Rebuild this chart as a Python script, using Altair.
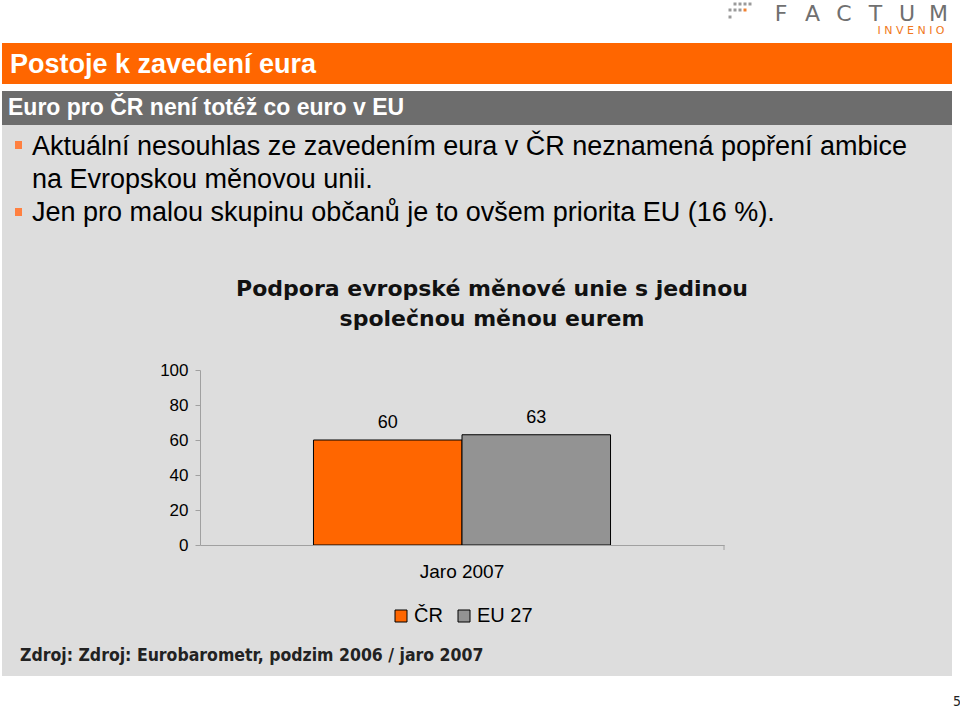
import altair as alt
import pandas as pd

# ---- data ----
series = ["ČR", "EU 27"]
period = ["Jaro 2007", "Jaro 2007"]
values = [60, 63]
colors = ["#FF6600", "#939393"]
y_ticks = [0, 20, 40, 60, 80, 100]

slide_title = "Postoje k zavedení eura"
slide_subtitle = "Euro pro ČR není totéž co euro v EU"
bullet_lines = [
    "Aktuální nesouhlas ze zavedením eura v ČR neznamená popření ambice",
    "na Evropskou měnovou unii.",
    "Jen pro malou skupinu občanů je to ovšem priorita EU (16 %).",
]
chart_title = ["Podpora evropské měnové unie s jedinou", "společnou měnou eurem"]
source_text = "Zdroj: Zdroj: Eurobarometr, podzim 2006 / jaro 2007"
page_no = "5"
logo_word = "FACTUM"
logo_sub = "I N V E N I O"

df = pd.DataFrame({"series": series, "period": period, "value": values})

# plot area origin is at page pixel (OX, OY)
OX, OY = 200, 370
W, H = 524, 175
FONT = "Liberation Sans"
NARROW = "DejaVu Sans Condensed, Liberation Sans"

dummy = alt.Data(values=[{}])


def rect(x1, y1, x2, y2, color):
    return alt.Chart(dummy).mark_rect(color=color).encode(
        x=alt.value(x1 - OX), x2=alt.value(x2 - OX),
        y=alt.value(y1 - OY), y2=alt.value(y2 - OY),
    )


def text(t, x, y, size, color="#000000", weight="normal", align="left", font=FONT):
    return alt.Chart(dummy).mark_text(
        text=t, fontSize=size, color=color, fontWeight=weight, align=align,
        baseline="middle", font=font,
    ).encode(x=alt.value(x - OX), y=alt.value(y - OY))


layers = []
# background panels
layers.append(rect(2, 125, 952, 676, "#DDDDDD"))
layers.append(rect(2, 43, 952, 84, "#FF6600"))
layers.append(rect(2, 91, 952, 125, "#6D6D6D"))
layers.append(text(slide_title, 10, 65, 27, "#FFFFFF", "bold"))
layers.append(text(slide_subtitle, 8, 108, 23, "#FFFFFF", "bold"))

# bullets
layers.append(rect(15, 141, 22, 149, "#FF8040"))
layers.append(rect(15, 208, 22, 216, "#FF8040"))
layers.append(text(bullet_lines[0], 32, 147, 27))
layers.append(text(bullet_lines[1], 32, 180, 27))
layers.append(text(bullet_lines[2], 32, 213, 27))

# chart title
layers.append(text(chart_title[0], 492, 289, 22, "#111111", "bold", "center", "DejaVu Sans"))
layers.append(text(chart_title[1], 492, 319, 22, "#111111", "bold", "center", "DejaVu Sans"))

# source and page number
layers.append(text(source_text, 20, 656, 17.5, "#222222", "bold", font=NARROW))
layers.append(text(page_no, 953, 702, 14, "#222222", font=NARROW))

# logo
for i, ch in enumerate(logo_word):
    layers.append(text(ch, 781 + i * 31.5, 13.5, 22, "#707070", align="center", font="DejaVu Sans"))
layers.append(text(logo_sub, 911, 30.5, 11, "#F07820", align="center", font="DejaVu Sans"))
for (sx, sy, c) in [(735, 4, "#9A9A9A"), (740, 4, "#9A9A9A"), (745, 4, "#9A9A9A"), (750, 4, "#9A9A9A"),
                    (730, 10, "#9A9A9A"), (735, 10, "#9A9A9A"), (740, 10, "#9A9A9A"), (745, 10, "#F08030"),
                    (730, 17, "#9A9A9A")]:
    layers.append(rect(sx - 1.5, sy - 1.5, sx + 1.5, sy + 1.5, c))

# x-axis end tick
layers.append(alt.Chart(dummy).mark_rule(color="#A0A0A0").encode(
    x=alt.value(W), y=alt.value(H), y2=alt.value(H + 5)))

x_axis = alt.Axis(labelFontSize=19, labelFont=FONT, labelColor="#000000", labelAngle=0,
                  ticks=False, labelPadding=17, domainColor="#A0A0A0", zindex=1)
y_axis = alt.Axis(values=y_ticks, grid=False, labelFontSize=17, labelFont=FONT,
                  labelColor="#000000", tickColor="#A0A0A0", tickSize=5,
                  labelOverlap=False, labelBound=False,
                  domainColor="#A0A0A0", labelPadding=7, zindex=1)
x_enc = alt.X("period:N", title=None, scale=alt.Scale(paddingOuter=0.382, paddingInner=0), axis=x_axis)
xo_enc = alt.XOffset("series:N", sort=series, scale=alt.Scale(paddingInner=0, paddingOuter=0))
y_enc = alt.Y("value:Q", title=None, scale=alt.Scale(domain=[0, 100]), axis=y_axis)

# bars
base = alt.Chart(df)
bars = base.mark_bar(stroke="#000000", strokeWidth=1).encode(
    x=x_enc, xOffset=xo_enc, y=y_enc,
    color=alt.Color("series:N", sort=series, scale=alt.Scale(domain=series, range=colors),
                    legend=alt.Legend(title=None, orient="none", direction="horizontal",
                                      legendX=191, legendY=236, symbolType="square", symbolSize=144,
                                      symbolStrokeColor="#000000", symbolStrokeWidth=1,
                                      labelFontSize=20, labelFont=FONT, labelColor="#000000",
                                      labelOffset=3, columnPadding=11, symbolOpacity=1)),
)
labels = base.mark_text(fontSize=18, font=FONT, color="#000000", dy=-12, baseline="alphabetic").encode(
    x=x_enc, xOffset=xo_enc, y=y_enc,
    text=alt.Text("value:Q"),
)

chart = alt.layer(*layers, bars, labels).properties(
    width=W, height=H,
    padding={"left": OX, "top": OY, "right": 960 - OX - W, "bottom": 709 - OY - H},
    autosize=alt.AutoSizeParams(type="none"),
    background="#FFFFFF",
).configure_view(stroke=None)

chart.save("out.html", embed_options={"renderer": "svg", "actions": False})
